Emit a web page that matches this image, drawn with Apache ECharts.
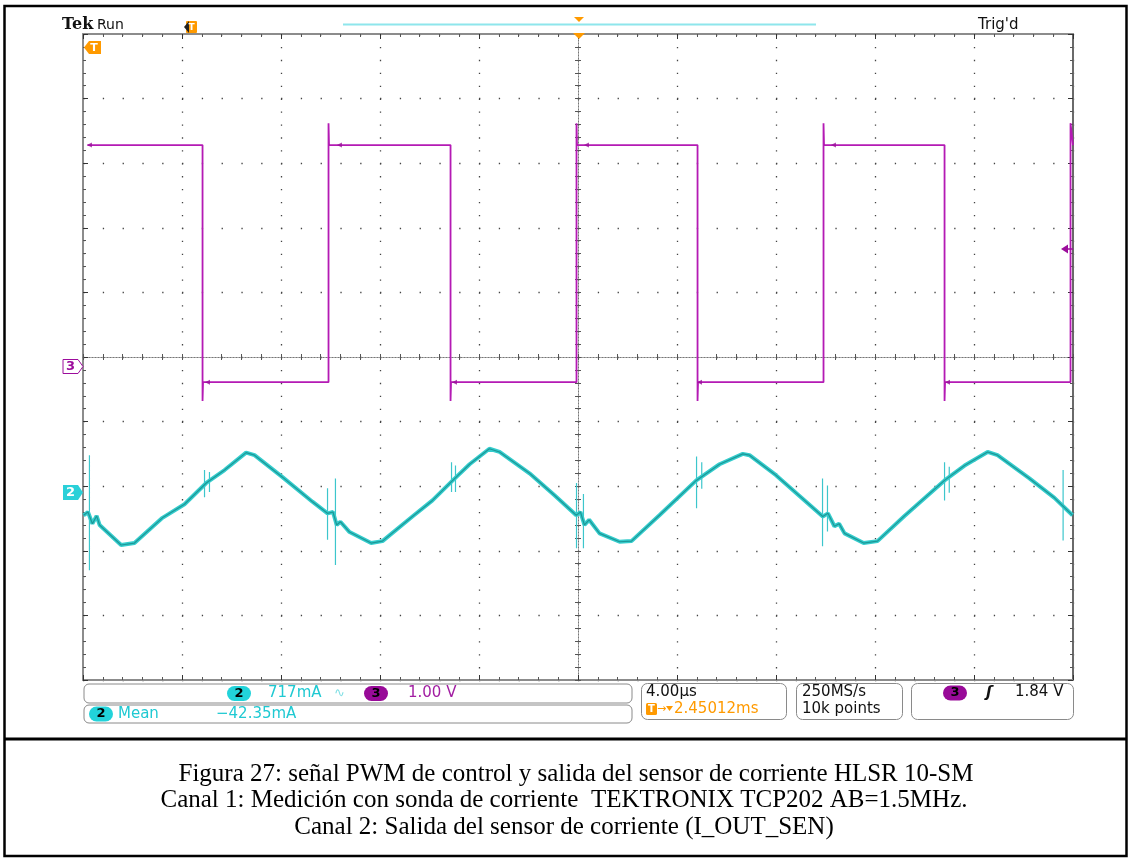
<!DOCTYPE html>
<html><head><meta charset="utf-8">
<script src="https://cdn.jsdelivr.net/npm/echarts@6/dist/echarts.min.js"></script>
<style>html,body{margin:0;padding:0;background:#fff}#c{width:1129px;height:859px}</style>
</head><body><div id="c"></div>
<script>
// ---- DATA (time in µs relative to trigger, amplitude in screen divisions from centre) ----
const ch3Time = [-19.82,-15.17,-15.17,-15.15,-10.08,-10.08,-10.06,-5.15,-5.15,-5.13,-0.06,-0.06,-0.04,4.83,4.83,4.85,9.92,9.92,9.94,14.81,14.81,14.83,19.9,19.9,20];
const ch3Div  = [3.28,3.28,-0.68,-0.39,-0.39,3.62,3.28,3.28,-0.68,-0.39,-0.39,3.62,3.28,3.28,-0.68,-0.39,-0.39,3.62,3.28,3.28,-0.68,-0.39,-0.39,3.62,3.28];
const ch3MarkTime = [-19.74,-9.64,0.34,10.32,-14.97,-4.99,4.91,14.93];
const ch3MarkDiv  = [3.28,3.28,3.28,3.28,-0.39,-0.39,-0.39,-0.39];

const ch2Time = [-19.98,-19.8,-19.62,-19.45,-19.33,-18.46,-17.92,-16.79,-15.9,-15.02,-14.28,-13.41,-13.07,-11.94,-10.73,-10.12,-9.9,-9.75,-9.6,-9.23,-8.36,-7.9,-6.69,-5.88,-5.06,-4.38,-3.58,-3.17,-1.96,-0.95,-0.07,0.1,0.26,0.45,0.87,1.68,2.16,3.29,4.78,5.72,6.66,6.93,8.0,8.95,9.89,10.1,10.36,10.55,10.77,11.54,12.1,13.19,14.81,15.62,16.55,16.95,18.24,19.25,19.98];
const ch2Div  = [-2.45,-2.40,-2.58,-2.46,-2.60,-2.91,-2.88,-2.49,-2.28,-1.95,-1.75,-1.48,-1.52,-1.86,-2.24,-2.42,-2.40,-2.60,-2.55,-2.71,-2.88,-2.85,-2.47,-2.22,-1.91,-1.66,-1.42,-1.47,-1.80,-2.14,-2.45,-2.40,-2.60,-2.52,-2.73,-2.86,-2.85,-2.45,-1.91,-1.66,-1.50,-1.52,-1.83,-2.15,-2.47,-2.42,-2.62,-2.58,-2.73,-2.88,-2.85,-2.46,-1.91,-1.68,-1.47,-1.52,-1.88,-2.18,-2.45];

// switching noise spikes on ch2: time, top, bottom (divisions)
const spikeTime   = [-19.74,-15.09,-14.89,-10.12,-9.8,-5.11,-4.95,-0.06,0.22,4.79,5.0,9.88,10.08,14.81,15.0,19.6];
const spikeTop    = [-1.52,-1.75,-1.78,-2.03,-1.88,-1.63,-1.68,-1.95,-2.12,-1.54,-1.63,-1.88,-1.99,-1.63,-1.70,-1.75];
const spikeBottom = [-3.30,-2.17,-2.09,-2.83,-3.22,-2.09,-2.09,-2.96,-2.96,-2.34,-2.04,-2.93,-2.70,-2.22,-2.10,-2.84];

const readouts = {ch2Scale:'717mA', ch3Scale:'1.00 V', mean:'\u221242.35mA', timebase:'4.00\u00b5s', delay:'2.45012ms', rate:'250MS/s', points:'10k points', trig:'1.84 V'};
const captionLines = [
  'Figura 27: se\u00f1al PWM de control y salida del sensor de corriente HLSR 10-SM',
  'Canal 1: Medici\u00f3n con sonda de corriente  TEKTRONIX TCP202 AB=1.5MHz.',
  'Canal 2: Salida del sensor de corriente (I_OUT_SEN)'
];

// ---- build ----
const zip = (a,b) => a.map((v,i)=>[v,b[i]]);
const ch3Data = zip(ch3Time, ch3Div);
const ch2Data = zip(ch2Time, ch2Div);
const spikeData = [];
spikeTime.forEach((t,i)=>{ spikeData.push([t,spikeTop[i]],[t,spikeBottom[i]],[t,'-']); });

const chart = echarts.init(document.getElementById('c'), null, {renderer:'canvas'});

const frameX = (pos, split) => ({
  type:'value', min:-20, max:20, interval:4, position:pos,
  axisLine:{show:true, onZero:false, lineStyle:{color:'#8c8c8c', width:2}},
  axisTick:{show:true, inside:true, length:5, lineStyle:{color:'#333', width:1}},
  minorTick:{show:true, splitNumber:5, length:3, lineStyle:{color:'#555', width:1}},
  axisLabel:{show:false},
  splitLine:{show:split, lineStyle:{color:'#444', width:1.3, type:[1.3,11.62]}}
});
const centerX = (inside) => ({
  type:'value', min:-20, max:20, interval:4, position:'bottom',
  axisLine:{show:true, onZero:true, onZeroAxisIndex:0, lineStyle:{color:'#777', width:1, type:[1,2]}},
  axisTick:{show:true, inside:inside, length:3, lineStyle:{color:'#555'}},
  minorTick:{show:true, splitNumber:5, length:3, lineStyle:{color:'#555'}},
  axisLabel:{show:false}, splitLine:{show:false}
});
const frameY = (pos, split) => ({
  type:'value', min:-5, max:5, interval:1, position:pos,
  axisLine:{show:true, onZero:false, lineStyle:{color: pos==='right' ? '#6a6a6a' : '#8c8c8c', width:2}},
  axisTick:{show:true, inside:true, length:5, lineStyle:{color:'#333', width:1}},
  minorTick:{show:true, splitNumber:5, length:3, lineStyle:{color:'#555', width:1}},
  axisLabel:{show:false},
  splitLine:{show:split, lineStyle:{color:'#444', width:1.3, type:[1.3,18.5]}}
});
const centerY = (inside) => ({
  type:'value', min:-5, max:5, interval:1, position:'left',
  axisLine:{show:true, onZero:true, onZeroAxisIndex:0, lineStyle:{color:'#777', width:1, type:[1,2]}},
  axisTick:{show:true, inside:inside, length:3, lineStyle:{color:'#555'}},
  minorTick:{show:true, splitNumber:5, length:3, lineStyle:{color:'#555'}},
  axisLabel:{show:false}, splitLine:{show:false}
});

const T = (text, x, y, font, fill, align) => ({
  type:'text', z:100,
  style:{text:text, x:x, y:y, font:font, fill:fill, align:align||'left', verticalAlign:'middle', textAlign:align||'left', textVerticalAlign:'middle'}
});
const R = (x,y,w,h,r,fill,stroke,lw) => ({type:'rect', z:90, shape:{x:x,y:y,width:w,height:h,r:r}, style:{fill:fill||'none', stroke:stroke||null, lineWidth:lw||1}});
const P = (pts, fill, stroke) => ({type:'polygon', z:95, shape:{points:pts}, style:{fill:fill||'none', stroke:stroke||null, lineWidth:1}});
const L = (x1,y1,x2,y2,stroke,lw) => ({type:'line', z:90, shape:{x1:x1,y1:y1,x2:x2,y2:y2}, style:{stroke:stroke, lineWidth:lw||1}});

const CY = '#1fc9d2', PU = '#9c0c9c', OR = '#ff9a00';
const ro = '15px "DejaVu Sans"';
const graphics = [
  // outer frame and separator
  R(4.5,6,1122,850,0,'none','#000',2.5),
  L(4,739,1127,739,'#000',3),
  // header
  T('Tek', 62, 25, 'bold 16px "DejaVu Serif"', '#111'),
  T('Run', 97, 25, '14px "DejaVu Sans"', '#111'),
  T("Trig'd", 978, 25, '15px "DejaVu Sans"', '#111'),
  L(343,24.5,816,24.5,'#8ee6ec',2),
  P([[574,17],[584,17],[579,22]], OR),
  P([[573,33],[585,33],[579,39]], OR),
  // small trigger-position marker near top
  R(186,21,11,12,1,OR),
  P([[184,27],[189,21],[189,33]], '#222'),
  T('T', 191.5, 27.5, 'bold 9px "DejaVu Sans"', '#fff', 'center'),
  // T flag at top-left of graticule
  P([[84,47.5],[89,41],[101,41],[101,54],[89,54]], OR),
  T('T', 94, 48, 'bold 11px "DejaVu Sans"', '#fff', 'center'),
  // channel ground markers
  P([[63,359.5],[78,359.5],[83,366.5],[78,373.5],[63,373.5]], '#fff', PU),
  T('3', 70.5, 367, 'bold 13px "DejaVu Sans"', PU, 'center'),
  P([[63,485],[78,485],[83,492.5],[78,500],[63,500]], '#2ad0d8'),
  T('2', 70.5, 493, 'bold 13px "DejaVu Sans"', '#fff', 'center'),
  // ch3 trigger level arrow (right edge)
  P([[1061,249],[1068,244.5],[1068,253.5]], PU),
  L(1066,249,1073,249,PU,1.5),
  // readout boxes
  R(84,684,548,19,5,'none','#8a8a8a',1),
  R(84,705,548,18,5,'none','#8a8a8a',1),
  R(641.5,683.5,145,36,6,'none','#8a8a8a',1),
  R(796.5,683.5,106,36,6,'none','#8a8a8a',1),
  R(911.5,683.5,162,36,6,'none','#8a8a8a',1),
  R(227,686,24,15,7.5,'#22d3da'),
  T('2', 239, 693.5, 'bold 13px "DejaVu Sans"', '#000', 'center'),
  T(readouts.ch2Scale, 268, 693.5, ro, CY),
  T('\u223f', 334, 693.5, '13px "DejaVu Sans"', '#7fdfe4'),
  R(364,686,24,15,7.5,'#980a98'),
  T('3', 376, 693.5, 'bold 13px "DejaVu Sans"', '#000', 'center'),
  T(readouts.ch3Scale, 408, 693.5, ro, '#a21ea2'),
  R(89,706.5,24,15,7.5,'#22d3da'),
  T('2', 101, 714, 'bold 13px "DejaVu Sans"', '#000', 'center'),
  T('Mean', 118, 714, ro, CY),
  T(readouts.mean, 216, 714, ro, CY),
  T(readouts.timebase, 646, 692.5, ro, '#111'),
  R(646,703,11,12,1.5,OR),
  T('T', 651.5, 709.5, 'bold 10px "DejaVu Sans"', '#fff', 'center'),
  T('\u2192', 657, 709.5, '11px "DejaVu Sans"', OR),
  P([[666,706],[673,706],[669.5,711]], OR),
  T(readouts.delay, 674, 709.5, ro, OR),
  T(readouts.rate, 802, 692.5, ro, '#111'),
  T(readouts.points, 802, 709.5, ro, '#111'),
  R(943,685.5,24,15,7.5,'#980a98'),
  T('3', 955, 693, 'bold 13px "DejaVu Sans"', '#000', 'center'),
  T('\u0283', 986, 693, 'italic bold 15px "DejaVu Sans"', '#111'),
  T(readouts.trig, 1015, 692.5, ro, '#111')
];
const capX = [576, 564, 564];
captionLines.forEach((s,i)=>graphics.push(T(s, capX[i], 774 + i*26.5, '25px "Liberation Serif"', '#000', 'center')));

chart.setOption({
  animation:false,
  backgroundColor:'#fff',
  grid:{left:83, top:34, width:990, height:646, containLabel:false},
  xAxis:[frameX('bottom',true), frameX('top',false), centerX(true), centerX(false)],
  yAxis:[frameY('left',true), frameY('right',false), centerY(true), centerY(false)],
  series:[
    {type:'line', name:'ch2 spikes', data:spikeData, xAxisIndex:0, yAxisIndex:0, showSymbol:false, connectNulls:false,
     lineStyle:{color:'#3cc6cc', width:1.2}, z:3, silent:true},
    {type:'line', name:'ch2', data:ch2Data, xAxisIndex:0, yAxisIndex:0, showSymbol:false,
     lineStyle:{color:'#34cccc', width:4}, z:4, silent:true},
    {type:'line', name:'ch2 core', data:ch2Data, xAxisIndex:0, yAxisIndex:0, showSymbol:false,
     lineStyle:{color:'#16898a', width:1.2, opacity:0.8}, z:5, silent:true},
    {type:'line', name:'ch3', data:ch3Data, xAxisIndex:0, yAxisIndex:0, showSymbol:false,
     lineStyle:{color:'#b41ab4', width:1.8}, z:6, silent:true},
    {type:'scatter', name:'ch3 marks', data:zip(ch3MarkTime, ch3MarkDiv), xAxisIndex:0, yAxisIndex:0,
     symbol:'triangle', symbolSize:5, symbolRotate:90, itemStyle:{color:'#9a109a'}, z:7, silent:true}
  ],
  graphic:graphics
});
</script></body></html>
